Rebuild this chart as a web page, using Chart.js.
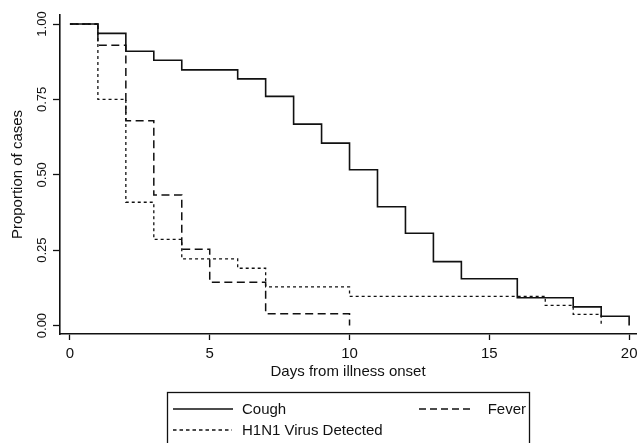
<!DOCTYPE html>
<html>
<head>
<meta charset="utf-8">
<script src="https://cdn.jsdelivr.net/npm/chart.js@4/dist/chart.umd.min.js"></script>
<style>
    body { margin: 0; background: #fff; }
    canvas { display: block; }
</style>
</head>
<body>
<canvas id="grafica" width="642" height="443"></canvas>
<script>
// dias desde el inicio y proporcion de casos (curvas escalonadas)
const diasTos = [0, 1, 2, 3, 4, 6, 7, 8, 9, 10, 11, 12, 13, 14, 16, 18, 19, 20];
const tos = [1, 0.969, 0.910, 0.880, 0.848, 0.818, 0.760, 0.668, 0.605, 0.517, 0.394, 0.306, 0.212, 0.155, 0.092, 0.062, 0.031, 0];

const diasFiebre = [0, 1, 2, 3, 4, 5, 7, 10];
const fiebre = [1, 0.930, 0.679, 0.433, 0.253, 0.144, 0.039, 0];

const diasVirus = [0, 1, 2, 3, 4, 6, 7, 10, 17, 18, 19];
const virus = [1, 0.750, 0.409, 0.286, 0.221, 0.190, 0.128, 0.097, 0.067, 0.037, 0];

const ticksX = [0, 5, 10, 15, 20];
const ticksY = [0, 0.25, 0.5, 0.75, 1];
const etiquetasY = ["0.00", "0.25", "0.50", "0.75", "1.00"];

const negro = "#111";
const fuente = "Arial, 'Liberation Sans', sans-serif";

function puntos(xs, ys) {
    return xs.map((x, i) => ({ x: x, y: ys[i] }));
}

// etiquetas verticales del eje y y leyenda en recuadro
const extras = {
    id: "extras",
    afterDraw(chart) {
        const ctx = chart.ctx;
        const ys = chart.scales.y;
        ctx.save();
        ctx.fillStyle = negro;
        ctx.font = "13px " + fuente;
        ctx.textAlign = "center";
        ctx.textBaseline = "middle";
        ticksY.forEach((v, i) => {
            ctx.save();
            ctx.translate(42.5, ys.getPixelForValue(v));
            ctx.rotate(-Math.PI / 2);
            ctx.fillText(etiquetasY[i], 0, 0);
            ctx.restore();
        });

        ctx.strokeStyle = negro;
        ctx.lineWidth = 1.3;
        ctx.strokeRect(167.5, 392.5, 362, 70);

        const ds = chart.data.datasets;
        const filas = [
            { d: ds[0], dash: [], x1: 173, x2: 233, y: 409, tx: 242, align: "left" },
            { d: ds[1], dash: [7, 4], x1: 419, x2: 472, y: 409, tx: 526, align: "right" },
            { d: ds[2], dash: [3.5, 3], x1: 173, x2: 232, y: 430, tx: 242, align: "left" }
        ];
        ctx.font = "15px " + fuente;
        filas.forEach(f => {
            ctx.beginPath();
            ctx.setLineDash(f.dash);
            ctx.lineWidth = f.d.borderWidth;
            ctx.moveTo(f.x1, f.y);
            ctx.lineTo(f.x2, f.y);
            ctx.stroke();
            ctx.setLineDash([]);
            ctx.textAlign = f.align;
            ctx.fillText(f.d.label, f.tx, f.y + 1);
        });
        ctx.restore();
    }
};

new Chart(document.getElementById("grafica"), {
    type: "line",
    data: {
        datasets: [
            { label: "Cough", data: puntos(diasTos, tos), borderColor: negro, borderWidth: 1.6, stepped: true },
            { label: "Fever", data: puntos(diasFiebre, fiebre), borderColor: negro, borderWidth: 1.5, borderDash: [8, 4.5], stepped: true },
            { label: "H1N1 Virus Detected", data: puntos(diasVirus, virus), borderColor: negro, borderWidth: 1.3, borderDash: [3, 3], stepped: true }
        ]
    },
    options: {
        responsive: false,
        animation: false,
        layout: { padding: { left: 0, right: 2, top: 15, bottom: 0 } },
        elements: { point: { radius: 0 }, line: { tension: 0, fill: false, borderCapStyle: "butt" } },
        plugins: { legend: { display: false }, tooltip: { enabled: false } },
        scales: {
            x: {
                type: "linear",
                min: -0.355,
                max: 20.25,
                afterBuildTicks: s => { s.ticks = ticksX.map(v => ({ value: v })); },
                afterFit: s => { s.height = 109; },
                border: { color: negro, width: 1.6 },
                grid: { drawOnChartArea: false, drawTicks: true, tickLength: 6, tickColor: negro, tickWidth: 1.3 },
                ticks: { color: negro, padding: 4.5, font: { size: 15, family: fuente } },
                title: {
                    display: true,
                    text: "Days from illness onset",
                    color: negro,
                    padding: { top: 0, bottom: 62 },
                    font: { size: 15, family: fuente }
                }
            },
            y: {
                type: "linear",
                min: -0.028,
                max: 1.03,
                afterBuildTicks: s => { s.ticks = ticksY.map(v => ({ value: v })); },
                afterFit: s => { s.width = 60; },
                border: { color: negro, width: 1.6 },
                grid: { drawOnChartArea: false, drawTicks: true, tickLength: 7, tickColor: negro, tickWidth: 1.3 },
                ticks: { display: false },
                title: {
                    display: true,
                    text: "Proportion of cases",
                    color: negro,
                    padding: { top: 8.5, bottom: 0 },
                    font: { size: 15, family: fuente }
                }
            }
        }
    },
    plugins: [extras]
});
</script>
</body>
</html>
